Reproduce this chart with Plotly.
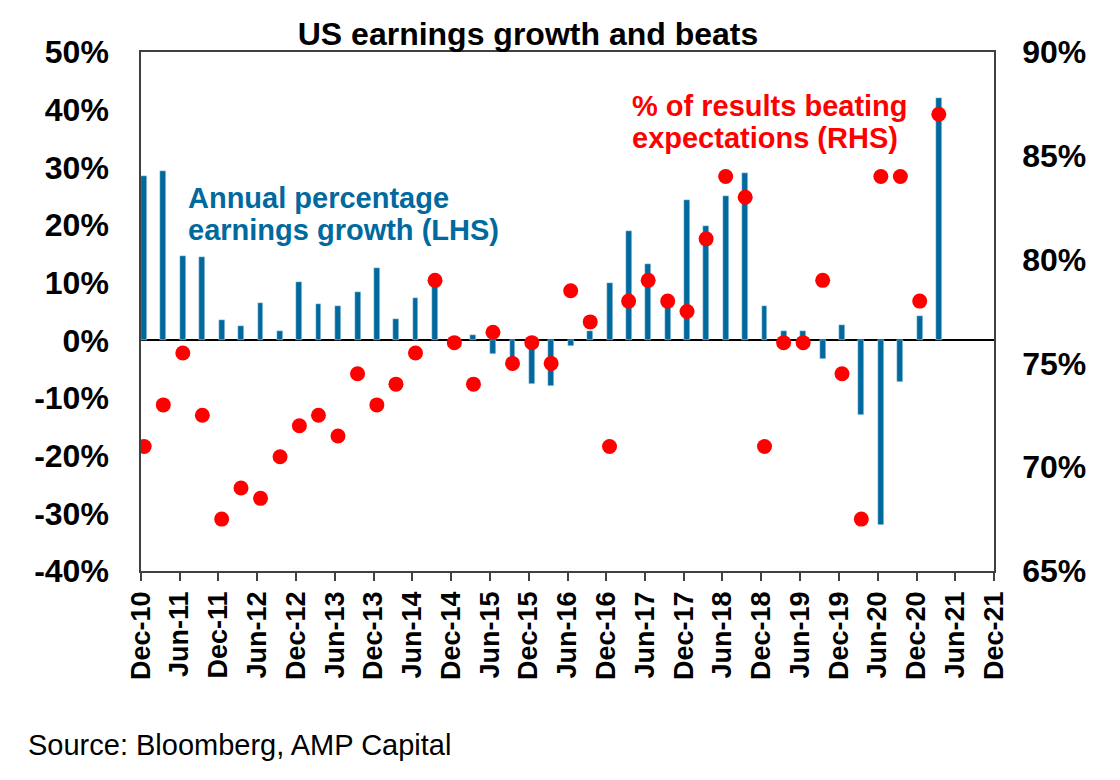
import pandas as pd
import plotly.graph_objects as go

# quarters, Dec-10 to Mar-21
quarters = pd.date_range("2010-12-01", "2021-03-01", freq="3MS")

# annual % earnings growth (LHS)
growth = [28.5, 29.3, 14.7, 14.4, 3.6, 2.4, 6.5, 1.6, 10.2, 6.3,
          6.0, 8.3, 12.6, 3.7, 7.3, 9.5, 0.0, 1.0, -2.4, -3.5,
          -7.6, -8.0, -0.9, 1.7, 9.9, 19.0, 13.2, 6.5, 24.3, 19.9,
          25.0, 29.0, 5.9, 1.7, 1.6, -3.3, 2.6, -13.0, -32.0, -7.3,
          4.2, 42.0]

# % of results beating expectations (RHS)
beats = [71.0, 73.0, 75.5, 72.5, 67.5, 69.0, 68.5, 70.5, 72.0, 72.5,
         71.5, 74.5, 73.0, 74.0, 75.5, 79.0, 76.0, 74.0, 76.5, 75.0,
         76.0, 75.0, 78.5, 77.0, 71.0, 78.0, 79.0, 78.0, 77.5, 81.0,
         84.0, 83.0, 71.0, 76.0, 76.0, 79.0, 74.5, 67.5, 84.0, 84.0,
         78.0, 87.0]

tick_dates = pd.date_range("2010-12-01", "2021-12-01", freq="6MS")
tick_labels = [d.strftime("%b-%y") for d in tick_dates]

left_ticks = list(range(-40, 51, 10))
left_labels = [f"{v}%" for v in left_ticks]  # plain hyphen, as in the original

FONT = "Liberation Sans, Arial, sans-serif"
BLUE = "#00699d"
RED = "#ff0000"

# the page adds an 8px body margin, so everything is pulled back by 8px
OFF = 8

# bars and dots sit mid-month
xs = quarters + pd.Timedelta(days=15)

fig = go.Figure()

fig.add_trace(go.Bar(
    x=xs, y=growth,
    marker_color=BLUE,
    width=28 * 86400000,
    name="Annual percentage earnings growth (LHS)",
))

fig.add_trace(go.Scatter(
    x=xs, y=beats,
    mode="markers",
    marker=dict(color=RED, size=15),
    yaxis="y2",
    name="% of results beating expectations (RHS)",
))

fig.update_layout(
    width=1120, height=780,
    margin=dict(l=141 - OFF, r=126 + OFF, t=52 - OFF, b=209 + OFF),
    plot_bgcolor="white",
    paper_bgcolor="white",
    showlegend=False,
    font=dict(family=FONT, color="black"),
    title=dict(
        text="<b>US earnings growth and beats</b>",
        font=dict(size=32, color="black"),
        x=(528 - OFF) / 1120, xanchor="center", xref="container",
        y=1 - (34 - OFF) / 780, yanchor="middle", yref="container",
    ),
    xaxis=dict(
        type="date",
        range=["2010-12-01", "2021-12-01"],
        tickvals=tick_dates,
        ticktext=tick_labels,
        tickangle=-90,
        tickfont=dict(size=27, weight="bold"),
        ticks="outside", ticklen=8, tickcolor="#404040", tickwidth=1.5,
        showline=True, linecolor="#404040", linewidth=1.5, mirror=True,
        showgrid=False,
    ),
    yaxis=dict(
        range=[-40, 50],
        tickvals=left_ticks,
        ticktext=left_labels,
        tickfont=dict(size=32, weight="bold"),
        showline=True, linecolor="#404040", linewidth=1.5,
        showgrid=False,
        zeroline=True, zerolinecolor="black", zerolinewidth=1.5,
        ticklabelstandoff=24,
    ),
    yaxis2=dict(
        range=[65, 90],
        dtick=5,
        ticksuffix="%",
        tickfont=dict(size=32, weight="bold"),
        overlaying="y", side="right",
        showline=True, linecolor="#404040", linewidth=1.5,
        showgrid=False, zeroline=False,
        ticklabelstandoff=20,
    ),
    bargap=0,
)

def note(text, x, y, color, size=29, bold=True, xanchor="left"):
    fig.add_annotation(
        text=f"<b>{text}</b>" if bold else text,
        x=x, y=y, xref="paper", yref="paper",
        xanchor=xanchor, yanchor="middle",
        showarrow=False,
        font=dict(size=size, color=color, family=FONT),
    )

note("Annual percentage", (186 - 141) / 853, (571 - 198) / 519, BLUE)
note("earnings growth (LHS)", (186 - 141) / 853, (571 - 230) / 519, BLUE)
note("% of results beating", (630 - 141) / 853, (571 - 106) / 519, RED)
note("expectations (RHS)", (630 - 141) / 853, (571 - 138) / 519, RED)
note("Source: Bloomberg, AMP Capital", (26 - 141) / 853, (571 - 745) / 519,
     "black", bold=False)

fig.write_html("out.html")
